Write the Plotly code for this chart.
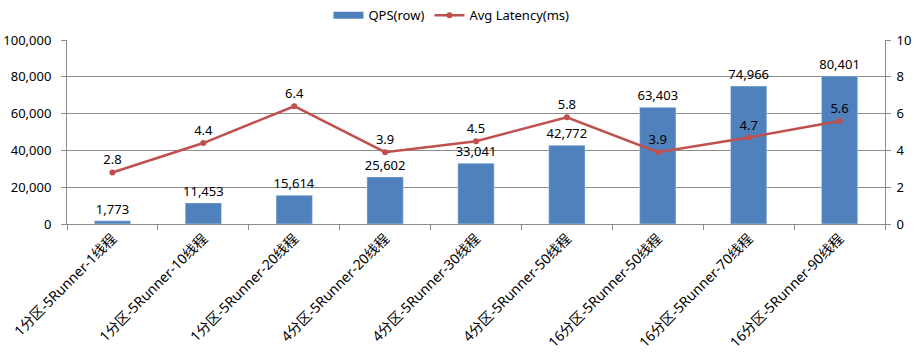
import plotly.graph_objects as go

categories = ["1分区-5Runner-1线程", "1分区-5Runner-10线程", "1分区-5Runner-20线程",
              "4分区-5Runner-20线程", "4分区-5Runner-30线程", "4分区-5Runner-50线程",
              "16分区-5Runner-50线程", "16分区-5Runner-70线程", "16分区-5Runner-90线程"]
qps = [1773, 11453, 15614, 25602, 33041, 42772, 63403, 74966, 80401]
latency = [2.8, 4.4, 6.4, 3.9, 4.5, 5.8, 3.9, 4.7, 5.6]

FONT = "Noto Sans, Noto Sans CJK SC, sans-serif"
GRID = "#8c8c8c"
BLUE = "#4F81BD"
RED = "#C0504D"

fig = go.Figure()
fig.add_trace(go.Bar(
    x=categories, y=qps, name="QPS(row)", marker_color=BLUE, showlegend=False,
    texttemplate="%{y:,}", textposition="outside", cliponaxis=False,
    constraintext="none",
    textfont=dict(size=13, color="black"),
))
# legend-only entry to mimic the wide bar swatch
fig.add_trace(go.Scatter(
    x=[None], y=[None], name="QPS(row)", mode="lines",
    line=dict(color=BLUE, width=7),
))
fig.add_trace(go.Scatter(
    x=categories, y=latency, name="Avg Latency(ms)", yaxis="y2",
    mode="lines+markers+text", line=dict(color=RED, width=2.5),
    marker=dict(size=6, color=RED),
    text=[f"{v:.1f}" for v in latency], textposition="top center",
    textfont=dict(size=13, color="black"), cliponaxis=False,
))

fig.update_layout(
    width=918, height=353,
    margin=dict(l=67, r=33, t=40, b=129, autoexpand=False),
    paper_bgcolor="white", plot_bgcolor="white",
    font=dict(family=FONT, size=13, color="black"),
    bargap=0.6,
    showlegend=True,
    legend=dict(orientation="h", x=0.47, xanchor="center", y=0.957, yanchor="middle",
                yref="container", font=dict(size=13), traceorder="normal",
                itemwidth=30),
    xaxis=dict(type="category", tickangle=-45, showline=True, linecolor=GRID,
               ticks="outside", ticklen=5, tickcolor=GRID, tickson="boundaries",
               showgrid=False, tickfont=dict(size=14)),
    yaxis=dict(range=[0, 100000], dtick=20000, tickformat=",", showgrid=True,
               gridcolor=GRID, showline=True, linecolor=GRID, ticks="outside",
               ticklen=5, tickcolor=GRID, zeroline=False, tickfont=dict(size=13),
               ticklabelstandoff=7),
    yaxis2=dict(range=[0, 10], dtick=2, overlaying="y", side="right", showgrid=False,
                showline=True, linecolor=GRID, ticks="outside", ticklen=5,
                tickcolor=GRID, zeroline=False, tickfont=dict(size=13),
                ticklabelstandoff=3),
)

fig.write_html("out.html")
